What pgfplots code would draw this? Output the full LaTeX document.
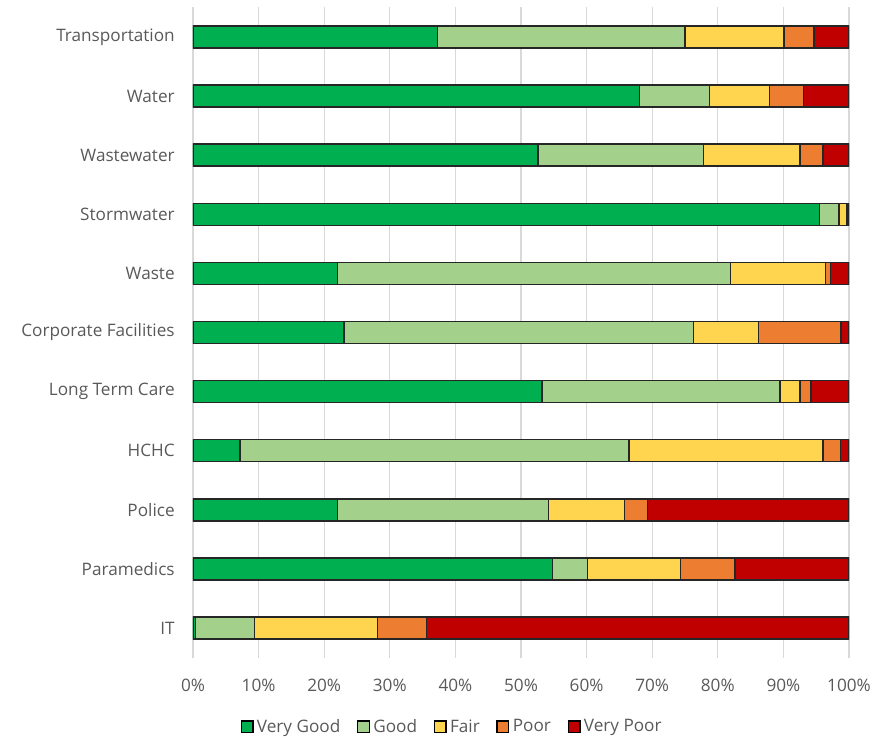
\documentclass[border=0pt]{standalone}
\usepackage{pgfplots}
\usepackage{pgfplotstable}
\usepackage{fontspec}
\setmainfont{Open Sans}
\pgfplotsset{compat=1.18}
\definecolor{vgood}{HTML}{00B050}
\definecolor{good}{HTML}{A3D18C}
\definecolor{fair}{HTML}{FFD54F}
\definecolor{poor}{HTML}{ED7D31}
\definecolor{vpoor}{HTML}{C00000}
\definecolor{txt}{HTML}{595959}
\definecolor{gridc}{HTML}{D9D9D9}
\pgfplotstableread{
y vg g f p vp
10 37.3 37.7 15.1 4.6 5.3
9 68.1 10.6 9.2 5.2 6.9
8 52.6 25.2 14.7 3.5 4.0
7 95.5 3.0 1.2 0.1 0.2
6 22.0 59.9 14.5 0.8 2.8
5 23.0 53.3 9.9 12.6 1.2
4 53.2 36.3 3.0 1.7 5.8
3 7.2 59.3 29.5 2.7 1.3
2 22.0 32.2 11.6 3.5 30.7
1 54.8 5.3 14.2 8.3 17.4
0 0.4 9.0 18.7 7.5 64.4
}\datatable
\begin{document}
\begin{tikzpicture}
\path[use as bounding box] (-115.8pt,-47.7pt) rectangle (419.4pt,394.5pt);
\begin{axis}[
  at={(0,0)}, anchor=south west,
  scale only axis, width=393.6pt, height=390pt,
  xbar stacked, bar width=13.2pt,
  xmin=0, xmax=100, ymin=-0.5, ymax=10.5,
  xtick={0,10,...,100},
  xticklabel={\pgfmathprintnumber{\tick}\%},
  ytick={0,...,10},
  yticklabels={IT,Paramedics,Police,HCHC,Long Term Care,Corporate Facilities,Waste,Stormwater,Wastewater,Water,Transportation},
  axis line style={draw=none},
  major tick length=0pt,
  xmajorgrids, grid style={gridc, line width=0.8pt},
  tick label style={font=\fontsize{10.3}{12}\selectfont, text=txt, inner sep=0pt},
  yticklabel shift=10.8pt,
  xticklabel shift=12.5pt,
  /pgf/number format/assume math mode=true,
  legend style={at={(0.396,-0.107)}, anchor=center, draw=none, fill=none,
    legend columns=-1, font=\fontsize{10.3}{12}\selectfont, text=txt,
    /tikz/every even column/.append style={column sep=8pt}},
  legend image code/.code={\draw[#1, draw=black, line width=0.8pt] (0pt,-3.3pt) rectangle (7pt,3.7pt);},
  every axis plot/.append style={draw=black!85, line width=0.9pt},
]
\addplot[fill=vgood] table[x=vg,y=y]{\datatable};
\addplot[fill=good] table[x=g,y=y]{\datatable};
\addplot[fill=fair] table[x=f,y=y]{\datatable};
\addplot[fill=poor] table[x=p,y=y]{\datatable};
\addplot[fill=vpoor] table[x=vp,y=y]{\datatable};
\legend{Very Good,Good,Fair,Poor,Very Poor}
\end{axis}
\end{tikzpicture}
\end{document}
